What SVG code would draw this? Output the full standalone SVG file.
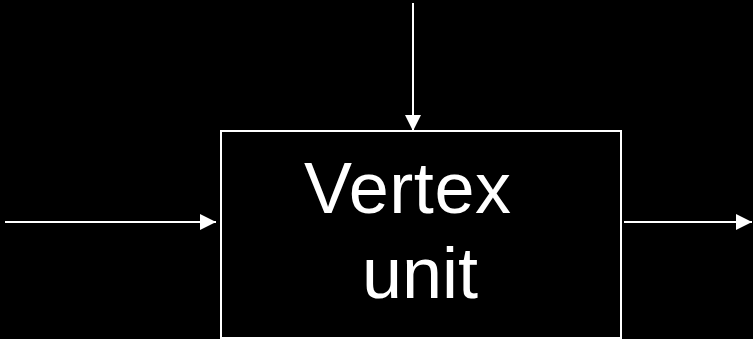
<svg xmlns="http://www.w3.org/2000/svg" width="753" height="339" viewBox="0 0 753 339">
  <style>
    .edge { stroke: #fff; stroke-width: 2; fill: none; }
    .label { fill: #fff; font-family: "Liberation Sans", Arial, sans-serif; font-size: 72px; }
  </style>
  <defs>
    <marker id="head" viewBox="0 0 16 16" refX="16" refY="8" markerWidth="16" markerHeight="16" markerUnits="userSpaceOnUse" orient="auto">
      <path d="M0,0 L16,8 L0,16 Z" fill="#fff"/>
    </marker>
  </defs>
  <rect width="753" height="339" fill="#000"/>
  <g id="vertex-unit">
    <rect x="221" y="131" width="400" height="207" fill="#000" stroke="#fff" stroke-width="2"/>
    <text class="label" x="304" y="213" textLength="207">Vertex</text>
    <text class="label" x="362" y="298" textLength="116">unit</text>
  </g>
  <g id="connectors">
    <line class="edge" x1="413" y1="3" x2="413" y2="131" marker-end="url(#head)"/>
    <line class="edge" x1="5" y1="222" x2="216" y2="222" marker-end="url(#head)"/>
    <line class="edge" x1="624" y1="222" x2="752" y2="222" marker-end="url(#head)"/>
  </g>
</svg>
